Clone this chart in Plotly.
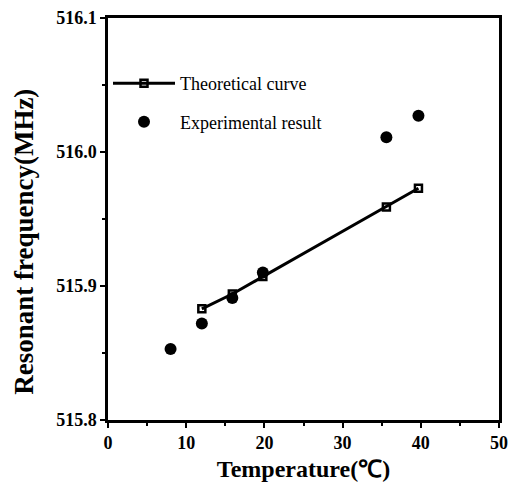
import plotly.graph_objects as go

theory_temp = [12.0, 15.9, 19.8, 35.6, 39.7]
theory_freq = [515.883, 515.894, 515.907, 515.959, 515.973]

exp_temp = [8.0, 12.0, 15.9, 19.8, 35.6, 39.7]
exp_freq = [515.853, 515.872, 515.891, 515.910, 516.011, 516.027]

y_ticks = [515.8, 515.9, 516.0, 516.1]
x_ticks = [0, 10, 20, 30, 40, 50]

font_family = "Liberation Serif, Times New Roman, serif"

fig = go.Figure()
fig.add_trace(go.Scatter(
    x=theory_temp, y=theory_freq, mode="lines+markers", name="Theoretical curve",
    legendgroup="a",
    line=dict(color="black", width=3),
    marker=dict(symbol="square-open", size=7, color="black", line=dict(width=2.5, color="black")),
))
fig.add_trace(go.Scatter(
    x=exp_temp, y=exp_freq, mode="markers", name="Experimental result",
    legendgroup="b",
    marker=dict(symbol="circle", size=12, color="black"),
))

axis_common = dict(
    showline=True, linecolor="black", linewidth=2.5, mirror=True,
    ticks="outside", ticklen=5, tickwidth=2, tickcolor="black",
    showgrid=False, zeroline=False, automargin=False,
    ticklabeloverflow="allow",
    tickfont=dict(family=font_family, size=18, color="black", weight="bold"),
)

fig.update_xaxes(
    range=[0, 50], tickvals=x_ticks,
    minor=dict(dtick=5, ticks="outside", ticklen=3, tickwidth=2, tickcolor="black"),
    title=dict(text="Temperature(℃)", font=dict(family=font_family, size=24, color="black", weight="bold"), standoff=8),
    **axis_common,
)
fig.update_yaxes(
    range=[515.8, 516.1], tickvals=y_ticks, ticktext=[f"{v:.1f}" for v in y_ticks],
    minor=dict(dtick=0.05, ticks="outside", ticklen=3, tickwidth=2, tickcolor="black"),
    **axis_common,
)

fig.add_annotation(
    text="Resonant frequency(MHz)", textangle=-90,
    xref="paper", yref="paper", x=-0.215, y=0.443,
    xanchor="center", yanchor="middle", showarrow=False,
    font=dict(family=font_family, size=27, color="black", weight="bold"),
)

fig.update_layout(
    width=513, height=485,
    margin=dict(l=100, r=22, t=10, b=73),
    paper_bgcolor="white", plot_bgcolor="white",
    showlegend=True,
    legend=dict(x=0.0, y=0.883, xanchor="left", yanchor="top",
                font=dict(family=font_family, size=18, color="black"),
                bgcolor="rgba(0,0,0,0)", itemwidth=62, tracegroupgap=12),
    font=dict(family=font_family, color="black"),
)

fig.write_html("out.html")
